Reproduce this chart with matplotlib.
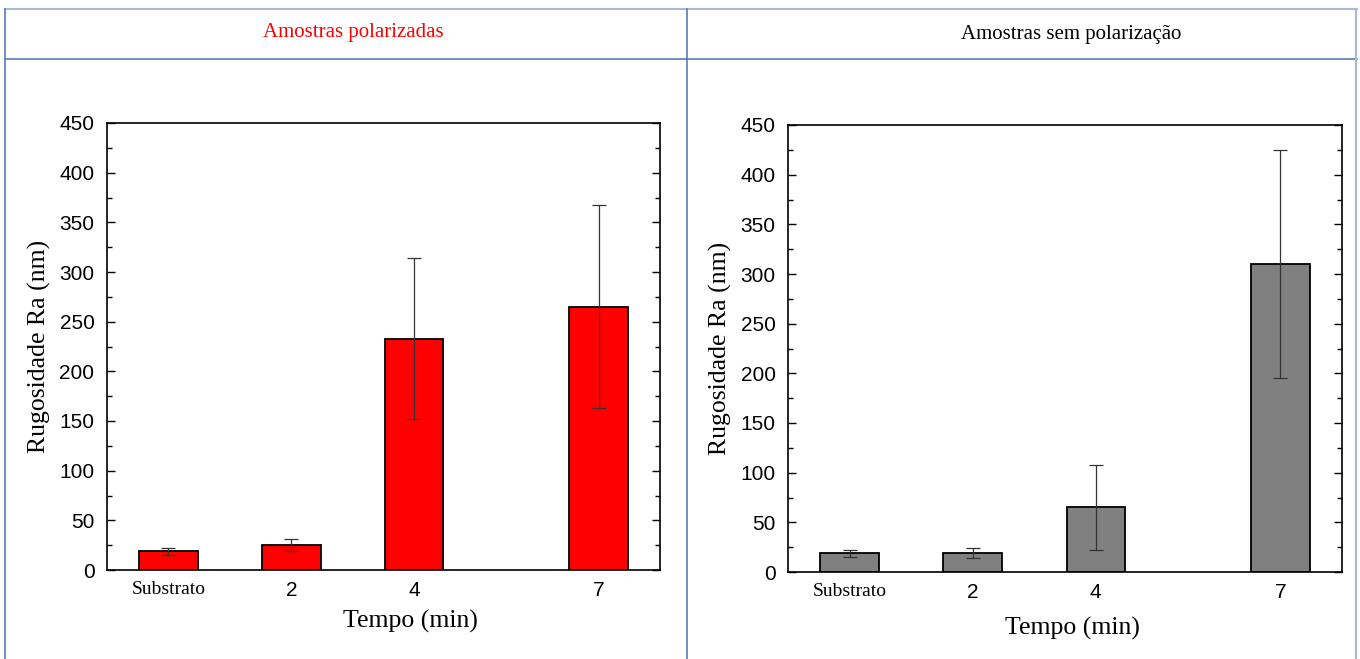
import matplotlib.pyplot as plt
from matplotlib.lines import Line2D
from matplotlib.ticker import MultipleLocator

labels = ['Substrato', '2', '4', '7']
xpos = [0, 2, 4, 7]

pol_ra = [19, 25, 233, 265]
pol_err = [3.5, 6, 81, 102]

sem_ra = [19, 19, 65, 310]
sem_err = [3.5, 5, 42.5, 115]

titles = ['Amostras polarizadas', 'Amostras sem polarização']
title_colors = ['#ff0000', '#000000']
bar_colors = ['#ff0000', '#808080']

fig = plt.figure(figsize=(13.6, 6.59), dpi=100)

# table frame around the two charts
line_c = '#5a7ab8'
W, H = 1360, 659
def hline(y, x0, x1, c=line_c, lw=1.2):
    fig.add_artist(Line2D([x0 / W, x1 / W], [1 - y / H, 1 - y / H], color=c, lw=lw))
def vline(x, y0, y1, c=line_c, lw=1.2):
    fig.add_artist(Line2D([x / W, x / W], [1 - y0 / H, 1 - y1 / H], color=c, lw=lw))

hline(9, 5, 1357, c='#a9b8d6', lw=1.5)
hline(59, 5, 1357)
vline(5, 9, 659)
vline(687, 9, 659)
vline(1356, 9, 659, c='#a9b8d6', lw=1.5)

fig.text(353 / W, 1 - 32 / H, titles[0], color=title_colors[0], ha='center', va='center',
         family='Liberation Serif', fontsize=15)
fig.text(1071 / W, 1 - 34 / H, titles[1], color=title_colors[1], ha='center', va='center',
         family='Liberation Serif', fontsize=15)

axes_pos = [[107 / W, 1 - 570 / H, 553 / W, 447 / H],
            [788 / W, 1 - 572 / H, 554 / W, 447 / H]]
xlabel_xy = [(0.548, -0.09), (0.514, -0.1)]

for pos, vals, errs, col, lxy in zip(axes_pos, [pol_ra, sem_ra], [pol_err, sem_err],
                                     bar_colors, xlabel_xy):
    ax = fig.add_axes(pos)
    ax.bar(xpos, vals, width=0.95, color=col, edgecolor='black', linewidth=1.3, zorder=2)
    ax.errorbar(xpos, vals, yerr=errs, fmt='none', ecolor='#333333', elinewidth=0.9,
                capsize=5, capthick=0.9, zorder=3)
    ax.set_xlim(-1, 8)
    ax.set_ylim(0, 450)
    ax.yaxis.set_major_locator(MultipleLocator(50))
    ax.yaxis.set_minor_locator(MultipleLocator(25))
    ax.tick_params(axis='y', which='both', direction='in', right=True, left=True,
                   labelsize=15, pad=9)
    ax.tick_params(axis='y', which='major', length=6, width=1)
    ax.tick_params(axis='y', which='minor', length=3.5, width=1)
    ax.tick_params(axis='x', length=0, pad=8)
    ax.set_xticks(xpos)
    ax.set_xticklabels(labels)
    for i, t in enumerate(ax.get_xticklabels()):
        if i == 0:
            t.set_family('Liberation Serif')
            t.set_fontsize(14)
        else:
            t.set_family('Liberation Sans')
            t.set_fontsize(15)
    for t in ax.get_yticklabels():
        t.set_family('Liberation Sans')
    for s in ax.spines.values():
        s.set_linewidth(1.2)
    ax.set_ylabel('Rugosidade Ra (nm)', family='Liberation Serif', fontsize=18.5, labelpad=6)
    ax.set_xlabel('Tempo (min)', family='Liberation Serif', fontsize=18.5)
    ax.xaxis.set_label_coords(*lxy)

fig.savefig('out.png', dpi=100)
